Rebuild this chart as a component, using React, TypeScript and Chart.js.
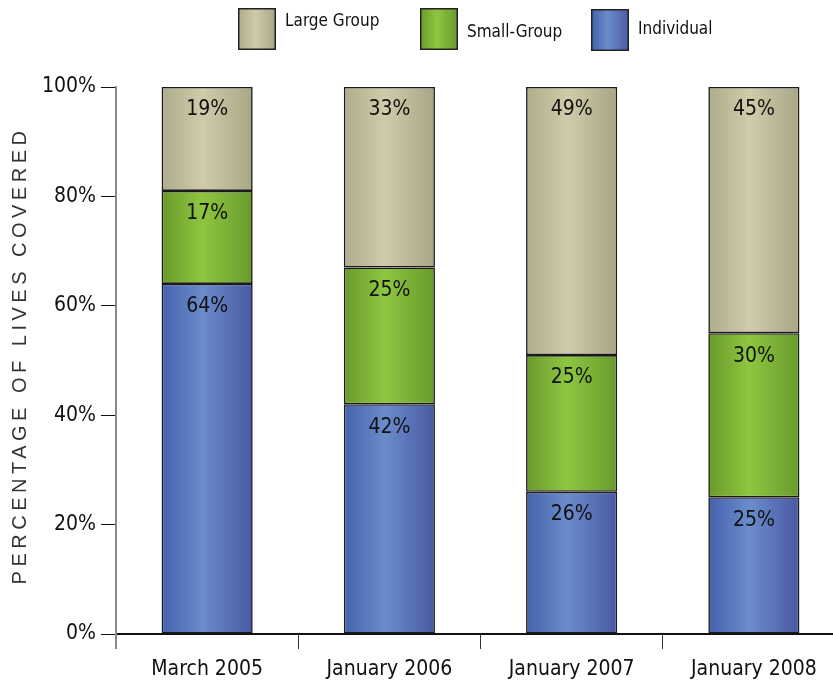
import React, { useEffect, useRef } from "react";
import { Chart, registerables } from "chart.js";

Chart.register(...registerables);

const categories = ["March 2005", "January 2006", "January 2007", "January 2008"];
const individual = [64, 42, 26, 25];
const smallGroup = [17, 25, 25, 30];
const largeGroup = [19, 33, 49, 45];
const yTicks = [0, 20, 40, 60, 80, 100];
const yTitle = "PERCENTAGE OF LIVES COVERED";
const legendNames = ["Large Group", "Small-Group", "Individual"];

const FONT = "'Liberation Sans Narrow', 'DejaVu Sans Condensed', 'Liberation Sans', sans-serif";

const palette: Record<string, string[]> = {
  Individual: ["#4561ad", "#6b8ccb", "#4959a3"],
  "Small-Group": ["#6a9a2b", "#8ec640", "#689a2d"],
  "Large Group": ["#aeac8a", "#d0cbab", "#a7a685"],
};

function makeGrad(ctx: CanvasRenderingContext2D, x0: number, x1: number, stops: string[]) {
  const g = ctx.createLinearGradient(x0, 0, x1, 0);
  g.addColorStop(0, stops[0]);
  g.addColorStop(0.45, stops[1]);
  g.addColorStop(1, stops[2]);
  return g;
}

const barFill = (name: string) => (c: any) => {
  const chart = c.chart;
  const area = chart.chartArea;
  const stops = palette[name];
  if (!area || !chart.scales.x) return stops[1];
  const x = chart.scales.x.getPixelForValue(c.dataIndex);
  const w = ((area.right - area.left) / categories.length) * 0.5;
  return makeGrad(chart.ctx, x - w / 2, x + w / 2, stops);
};

const extrasPlugin = {
  id: "extras",
  afterDatasetsDraw(chart: any) {
    const ctx = chart.ctx;
    ctx.save();
    ctx.font = `21px ${FONT}`;
    ctx.fillStyle = "#111";
    ctx.textAlign = "center";
    ctx.textBaseline = "middle";
    chart.data.datasets.forEach((ds: any, di: number) => {
      const meta = chart.getDatasetMeta(di);
      meta.data.forEach((el: any, i: number) => {
        ctx.fillText(ds.data[i] + "%", el.x, el.y + 23);
      });
    });
    ctx.restore();
  },
  afterDraw(chart: any) {
    const ctx = chart.ctx;
    const area = chart.chartArea;
    ctx.save();
    // y axis extension below zero
    ctx.strokeStyle = "#888";
    ctx.lineWidth = 2;
    ctx.beginPath();
    ctx.moveTo(area.left, area.bottom);
    ctx.lineTo(area.left, area.bottom + 15);
    ctx.stroke();

    // y title
    ctx.save();
    ctx.translate(20, (area.top + area.bottom) / 2 - 5);
    ctx.rotate(-Math.PI / 2);
    (ctx as any).letterSpacing = "4.5px";
    ctx.font = `20px 'Liberation Sans', 'DejaVu Sans', sans-serif`;
    ctx.fillStyle = "#333";
    ctx.textAlign = "center";
    ctx.textBaseline = "middle";
    ctx.fillText(yTitle, 0, 0);
    ctx.restore();

    // legend
    const boxes = [
      { x: 238, y: 8, ty: 22, tx: 285 },
      { x: 420, y: 8, ty: 33, tx: 467 },
      { x: 591, y: 9, ty: 30, tx: 638 },
    ];
    legendNames.forEach((name, i) => {
      const b = boxes[i];
      ctx.fillStyle = makeGrad(ctx, b.x, b.x + 38, palette[name]);
      ctx.fillRect(b.x, b.y, 38, 42);
      ctx.strokeStyle = "#222";
      ctx.lineWidth = 1.5;
      ctx.strokeRect(b.x + 0.75, b.y + 0.75, 36.5, 40.5);
      ctx.fillStyle = "#111";
      ctx.font = `17px ${FONT}`;
      ctx.textAlign = "left";
      ctx.textBaseline = "middle";
      ctx.fillText(name, b.tx, b.ty);
    });
    ctx.restore();
  },
};

export default function App() {
  const ref = useRef<HTMLCanvasElement>(null);
  useEffect(() => {
    if (!ref.current) return;
    const chart = new Chart(ref.current, {
      type: "bar",
      data: {
        labels: categories,
        datasets: [
          { label: "Individual", data: individual, backgroundColor: barFill("Individual") },
          { label: "Small-Group", data: smallGroup, backgroundColor: barFill("Small-Group") },
          { label: "Large Group", data: largeGroup, backgroundColor: barFill("Large Group") },
        ].map((d) => ({
          ...d,
          borderColor: "#1a1a1a",
          borderWidth: 1.6,
          borderSkipped: false,
          categoryPercentage: 1,
          barPercentage: 0.5,
        })),
      },
      options: {
        responsive: false,
        animation: false,
        layout: { padding: { top: 87, right: 15, left: 0, bottom: 0 } },
        plugins: { legend: { display: false }, tooltip: { enabled: false } },
        scales: {
          x: {
            stacked: true,
            afterFit: (s: any) => {
              s.height = 49;
            },
            grid: { drawOnChartArea: false, tickLength: 15, tickColor: "#333", offset: true },
            border: { color: "#111", width: 2 },
            ticks: { color: "#111", font: { family: FONT, size: 21 }, padding: 8 },
          },
          y: {
            stacked: true,
            min: 0,
            max: 100,
            afterFit: (s: any) => {
              s.width = 116;
            },
            afterBuildTicks: (s: any) => {
              s.ticks = yTicks.map((v) => ({ value: v }));
            },
            grid: { drawOnChartArea: false, tickLength: 15, tickColor: "#111" },
            border: { color: "#888", width: 2 },
            ticks: {
              color: "#111",
              font: { family: FONT, size: 21 },
              padding: 5,
              callback: (v: any) => v + "%",
            },
          },
        },
      },
      plugins: [extrasPlugin],
    });
    return () => chart.destroy();
  }, []);
  return (
    <div style={{ position: "absolute", left: 0, top: 0, width: 833, height: 683, overflow: "hidden", background: "#fff" }}>
      <canvas ref={ref} width={860} height={683} style={{ width: 860, height: 683, display: "block" }} />
    </div>
  );
}
